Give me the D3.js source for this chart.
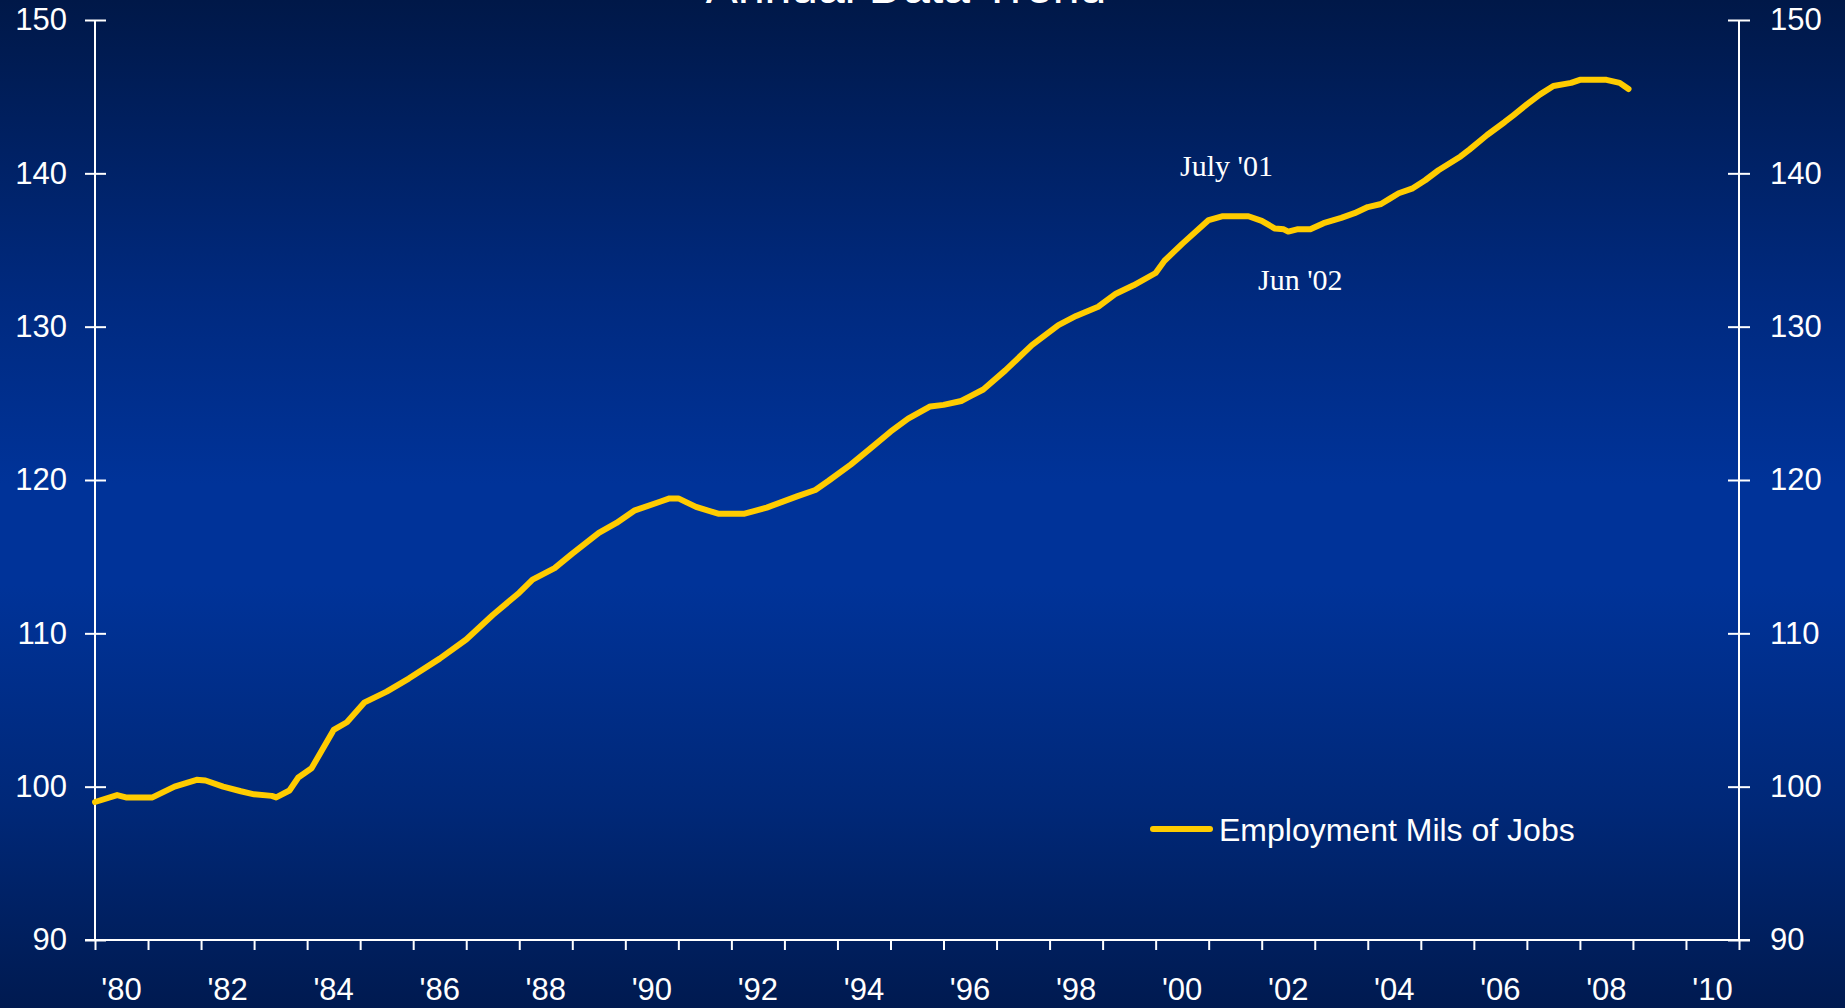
<!DOCTYPE html>
<html>
<head>
<meta charset="utf-8">
<script src="https://cdn.jsdelivr.net/npm/d3@7"></script>
<style>
  html, body { margin: 0; padding: 0; overflow: hidden; background: #001a4d; }
  svg { display: block; }
</style>
</head>
<body>
<svg id="chart" width="1845" height="1008"></svg>
<script>
// ---- Data ----
const chartTitle = "Annual Data Trend";
const seriesName = "Employment Mils of Jobs";
const months = [
  "1980-01","1980-06","1980-08","1981-02","1981-07","1981-12","1982-02","1982-06","1982-10",
  "1983-01","1983-05","1983-06","1983-09","1983-11","1984-02","1984-07","1984-10","1985-02",
  "1985-07","1985-12","1986-07","1987-01","1987-07","1988-01","1988-04","1988-09","1989-01",
  "1989-07","1989-11","1990-03","1990-09","1990-11","1991-01","1991-05","1991-10","1992-04",
  "1992-09","1993-04","1993-08","1993-11","1994-04","1994-08","1995-01","1995-05","1995-10",
  "1996-01","1996-05","1996-07","1996-10","1997-03","1997-09","1998-03","1998-07","1998-12",
  "1999-04","1999-08","2000-01","2000-03","2000-07","2001-01","2001-04","2001-10","2002-01",
  "2002-04","2002-06","2002-07","2002-09","2002-12","2003-03","2003-07","2003-10","2004-01",
  "2004-04","2004-06","2004-08","2004-11","2005-02","2005-05","2005-10","2005-12","2006-04",
  "2006-08","2006-10","2007-01","2007-04","2007-07","2007-11","2008-01","2008-07","2008-10",
  "2008-12"
];
const employment = [
  99.0, 99.45, 99.3, 99.3, 100.0, 100.45, 100.4, 100.0, 99.7,
  99.5, 99.4, 99.3, 99.75, 100.6, 101.2, 103.7, 104.2, 105.5,
  106.2, 107.05, 108.35, 109.6, 111.2, 112.65, 113.5, 114.25, 115.2,
  116.55, 117.2, 118.0, 118.6, 118.8, 118.8, 118.25, 117.8, 117.8,
  118.2, 118.95, 119.35, 119.95, 121.0, 121.95, 123.15, 124.0, 124.8,
  124.9, 125.15, 125.45, 125.9, 127.15, 128.8, 130.1, 130.7, 131.3,
  132.15, 132.7, 133.5, 134.3, 135.4, 136.95, 137.2, 137.2, 136.9,
  136.4, 136.35, 136.2, 136.35, 136.35, 136.75, 137.1, 137.4, 137.8,
  138.0, 138.35, 138.7, 139.0, 139.55, 140.2, 141.1, 141.55, 142.5,
  143.35, 143.8, 144.5, 145.15, 145.7, 145.9, 146.1, 146.1, 145.9,
  145.5
];
const yTicks = [90, 100, 110, 120, 130, 140, 150];
const yearTicks = d3.range(1980, 2012);            // year boundaries
const yearLabels = d3.range(1980, 2011, 2);        // labelled years
const annotations = [
  { text: "July '01", month: "2001-07", value: 137.2 },
  { text: "Jun '02",  month: "2002-06", value: 136.35 }
];

// ---- Layout ----
const W = 1845, H = 1008;
const plot = { left: 95, right: 1739, top: 20, bottom: 940 };
const svg = d3.select("#chart");

// background gradient
const defs = svg.append("defs");
const grad = defs.append("linearGradient").attr("id", "bg")
  .attr("x1", 0).attr("y1", 0).attr("x2", 0).attr("y2", 1);
[[0, "#001848"], [0.3, "#002a80"], [0.48, "#003399"], [0.58, "#003399"], [0.8, "#002878"], [1, "#001a50"]]
  .forEach(([o, c]) => grad.append("stop").attr("offset", o).attr("stop-color", c));
svg.append("rect").attr("width", W).attr("height", H).attr("fill", "url(#bg)");

const parseMonth = s => { const [y, m] = s.split("-").map(Number); return y + (m - 1) / 12; };
const data = months.map((m, i) => ({ t: parseMonth(m), v: employment[i] }));

const x = d3.scaleLinear().domain([1980, 2011]).range([plot.left, plot.right]);
const y = d3.scaleLinear().domain([90, 150]).range([plot.bottom, plot.top]);

const font = "'Liberation Sans', Arial, Helvetica, sans-serif";
const serif = "'Liberation Serif', 'Times New Roman', serif";

// title (clipped at top as in the reference)
svg.append("text").attr("x", 906).attr("y", 3).attr("text-anchor", "middle")
  .attr("fill", "#fff").attr("font-family", font).attr("font-size", 48)
  .text(chartTitle);

// Left axis
const leftAxis = svg.append("g").attr("transform", `translate(${plot.left},0)`)
  .call(d3.axisLeft(y).tickValues(yTicks).tickSize(10).tickPadding(18));
leftAxis.selectAll(".tick line").clone().attr("x2", 11);
// Right axis
const rightAxis = svg.append("g").attr("transform", `translate(${plot.right},0)`)
  .call(d3.axisRight(y).tickValues(yTicks).tickSize(11).tickPadding(20));
rightAxis.selectAll(".tick line").clone().attr("x2", -11);

// Bottom axis (year boundaries)
const bottomAxis = svg.append("g").attr("transform", `translate(0,${plot.bottom})`)
  .call(d3.axisBottom(x).tickValues(yearTicks).tickSize(10).tickFormat(""));
// year labels centered in each labelled year
svg.append("g").selectAll("text").data(yearLabels).join("text")
  .attr("x", d => x(d + 0.5)).attr("y", 1000).attr("text-anchor", "middle")
  .attr("fill", "#fff").attr("font-family", font).attr("font-size", 31)
  .text(d => "'" + String(d % 100).padStart(2, "0"));

[leftAxis, rightAxis, bottomAxis].forEach(g => {
  g.select(".domain").attr("stroke", "#fff").attr("stroke-width", 2);
  g.selectAll(".tick line").attr("stroke", "#fff").attr("stroke-width", 2);
  g.selectAll(".tick text").attr("fill", "#fff").attr("font-family", font).attr("font-size", 31);
});
leftAxis.select(".domain").attr("d", `M0,${plot.top}V${plot.bottom}`);
rightAxis.select(".domain").attr("d", `M0,${plot.top}V${plot.bottom}`);
bottomAxis.select(".domain").attr("d", `M${plot.left - 10},0H${plot.right + 11}`);

// Line
const line = d3.line().x(d => x(d.t)).y(d => y(d.v)).curve(d3.curveLinear);
svg.append("path").datum(data).attr("d", line)
  .attr("fill", "none").attr("stroke", "#FFCC00").attr("stroke-width", 6)
  .attr("stroke-linejoin", "round").attr("stroke-linecap", "round");

// Annotations
svg.append("text").attr("x", 1180).attr("y", 176).attr("fill", "#fff")
  .attr("font-family", serif).attr("font-size", 30).text(annotations[0].text);
svg.append("text").attr("x", 1258).attr("y", 290).attr("fill", "#fff")
  .attr("font-family", serif).attr("font-size", 30).text(annotations[1].text);

// Legend
const lg = svg.append("g");
lg.append("line").attr("x1", 1153).attr("x2", 1210).attr("y1", 829).attr("y2", 829)
  .attr("stroke", "#FFCC00").attr("stroke-width", 6).attr("stroke-linecap", "round");
lg.append("text").attr("x", 1219).attr("y", 841).attr("fill", "#fff")
  .attr("font-family", font).attr("font-size", 32).text(seriesName);
</script>
</body>
</html>
